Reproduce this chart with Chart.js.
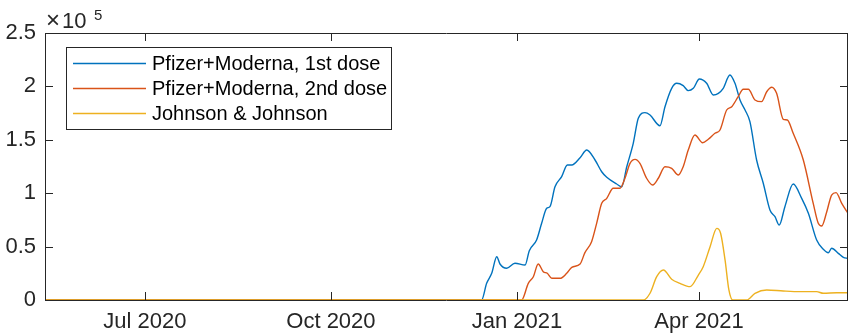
<!DOCTYPE html>
<html>
<head>
<meta charset="utf-8">
<script src="https://cdn.jsdelivr.net/npm/chart.js@4.4.1/dist/chart.umd.min.js"></script>
<style>
  html, body { margin: 0; padding: 0; background: #fff; }
  #chart { display: block; }
</style>
</head>
<body>
<canvas id="chart" width="848" height="334"></canvas>
<script>
// days are counted from 1 Jan 2021
const xMin = -233.4;
const xMax = 163.7;
const tickDays = [-184, -92, 0, 90];
const tickLabels = ['Jul 2020', 'Oct 2020', 'Jan 2021', 'Apr 2021'];
const yTicks = [0, 50000, 100000, 150000, 200000, 250000];

const seriesNames = ['Pfizer+Moderna, 1st dose', 'Pfizer+Moderna, 2nd dose', 'Johnson & Johnson'];
const seriesColors = ['#0072BD', '#D95319', '#EDB120'];

const firstDoseDays = [-233.4, -17.5, -15.0, -12.5, -10.0, -8.4, -5.1, -1.0, 4.0, 6.1, 9.7, 12.2, 14.7, 16.3, 18.8,
  22.1, 24.9, 27.1, 31.2, 34.5, 38.6, 41.9, 44.4, 49.3, 51.8, 54.3, 57.5, 60.0, 63.3, 65.8, 70.7, 73.2,
  76.5, 79.0, 82.2, 84.7, 87.2, 90.2, 93.8, 97.1, 99.6, 102.0, 105.3, 107.8, 110.3, 112.8, 115.2, 118.5,
  121.8, 125.1, 127.6, 129.7, 132.5, 136.6, 140.8, 144.1, 148.2, 151.5, 154.0, 155.6, 158.9, 161.4, 163.7];
const firstDoseValues = [0, 0, 15600, 25000, 40500, 33700, 29700, 34400, 32800, 46200, 56200, 71800, 85900, 87400, 106100,
  115500, 126400, 126400, 133200, 140400, 131100, 120100, 114900, 108600, 106100, 124800, 146700, 170100, 175400, 173200, 163200, 181000,
  198200, 202900, 200700, 196000, 198200, 206900, 202900, 191900, 193500, 198200, 210700, 202900, 187300, 177900, 167000, 131100,
  109300, 84300, 78000, 70200, 87400, 108600, 95200, 81200, 56200, 47500, 44300, 48400, 43700, 40000, 39000];

const secondDoseDays = [-233.4, 2.3, 5.6, 8.1, 10.5, 13.0, 15.0, 17.2, 21.3, 24.6, 27.1, 31.2, 33.6, 36.9, 39.4,
  41.9, 44.4, 47.6, 50.9, 53.4, 55.9, 58.4, 60.8, 64.1, 67.1, 69.9, 73.2, 76.5, 79.8, 82.2, 84.7, 88.0,
  91.8, 94.6, 97.9, 100.4, 103.7, 106.2, 109.4, 111.9, 114.4, 117.7, 121.0, 123.5, 126.0, 128.4, 131.7,
  133.7, 136.6, 141.6, 146.5, 149.0, 150.7, 153.2, 155.6, 157.8, 160.6, 163.7];
const secondDoseValues = [0, 0, 15600, 21800, 33700, 26500, 25000, 20300, 20300, 25000, 30600, 33700, 44300, 54600, 71800,
  90500, 95200, 104600, 104600, 114000, 128000, 131700, 128000, 114000, 107700, 114000, 124800, 123300, 117000, 124800, 140400, 154500,
  147300, 150500, 156100, 159200, 177900, 181000, 190400, 197300, 197300, 187300, 185700, 195000, 199200, 193500, 169200,
  168500, 156100, 131100, 90500, 71800, 69300, 82700, 98300, 100500, 90500, 81200];

const janssenDays = [-233.4, 62.5, 65.8, 69.1, 72.4, 76.5, 80.6, 85.6, 89.7, 92.1, 95.5, 98.8, 100.7, 102.9,
  104.8, 106.7, 113.6, 117.7, 123.5, 131.7, 140.0, 148.2, 151.5, 158.1, 163.7];
const janssenValues = [0, 0, 6300, 21800, 28100, 19400, 15600, 12500, 23400, 31200, 49900, 67100, 62500, 37500,
  9400, 0, 0, 6300, 9400, 8400, 7800, 7800, 6300, 6800, 6800];

const axisColor = '#262626';
const fontFamily = '"Liberation Sans", Arial, Helvetica, sans-serif';

function toPoints(days, values) {
  return days.map((d, i) => ({ x: d, y: values[i] }));
}

// box around the axes, inward ticks, exponent label and legend
const matlabAxes = {
  id: 'matlabAxes',
  afterDatasetsDraw(chart) {
    const { ctx, chartArea: a, scales: { x, y } } = chart;
    const tick = 8;
    ctx.save();
    ctx.strokeStyle = axisColor;
    ctx.lineWidth = 1;
    ctx.beginPath();
    ctx.moveTo(a.left + 0.5, a.bottom + 0.5);
    ctx.lineTo(a.left + 0.5, a.top + 0.5);
    ctx.lineTo(a.right - 0.5, a.top + 0.5);
    ctx.lineTo(a.right - 0.5, a.bottom + 0.5);
    ctx.lineTo(a.left + 0.5, a.bottom + 0.5);
    tickDays.forEach(d => {
      const px = Math.round(x.getPixelForValue(d)) + 0.5;
      ctx.moveTo(px, a.bottom);
      ctx.lineTo(px, a.bottom - tick);
      ctx.moveTo(px, a.top);
      ctx.lineTo(px, a.top + tick);
    });
    yTicks.forEach(v => {
      const py = Math.round(y.getPixelForValue(v)) + 0.5;
      ctx.moveTo(a.left, py);
      ctx.lineTo(a.left + tick, py);
      ctx.moveTo(a.right, py);
      ctx.lineTo(a.right - tick, py);
    });
    ctx.stroke();

    // exponent above the y axis
    ctx.fillStyle = axisColor;
    ctx.textBaseline = 'alphabetic';
    ctx.textAlign = 'left';
    ctx.font = '24px ' + fontFamily;
    ctx.fillText('\u00d7', a.left + 1, 28);
    ctx.font = '22px ' + fontFamily;
    ctx.fillText('10', a.left + 17, 28);
    ctx.font = '15px ' + fontFamily;
    ctx.fillText('5', a.left + 49, 20);

    // legend
    const lx = 66, ly = 47, lw = 325, lh = 82;
    ctx.fillStyle = '#fff';
    ctx.fillRect(lx, ly, lw, lh);
    ctx.strokeStyle = axisColor;
    ctx.lineWidth = 1;
    ctx.strokeRect(lx + 0.5, ly + 0.5, lw, lh);
    ctx.font = '20px ' + fontFamily;
    ctx.textBaseline = 'middle';
    seriesNames.forEach((name, i) => {
      const rowY = 63.5 + i * 25;
      ctx.strokeStyle = seriesColors[i];
      ctx.lineWidth = 1.4;
      ctx.beginPath();
      ctx.moveTo(73, rowY);
      ctx.lineTo(146, rowY);
      ctx.stroke();
      ctx.fillStyle = '#000';
      ctx.fillText(name, 152, rowY + 1);
    });
    ctx.restore();
  }
};

new Chart(document.getElementById('chart'), {
  type: 'line',
  data: {
    datasets: [
      { data: toPoints(firstDoseDays, firstDoseValues), borderColor: seriesColors[0], order: 2 },
      { data: toPoints(secondDoseDays, secondDoseValues), borderColor: seriesColors[1], order: 1 },
      { data: toPoints(janssenDays, janssenValues), borderColor: seriesColors[2], order: 0 }
    ]
  },
  options: {
    responsive: false,
    animation: false,
    devicePixelRatio: 1,
    layout: { padding: { top: 33, right: 0, left: 0, bottom: 0 } },
    elements: {
      line: { borderWidth: 1.4, cubicInterpolationMode: 'monotone', fill: false },
      point: { radius: 0 }
    },
    plugins: { legend: { display: false }, tooltip: { enabled: false } },
    scales: {
      x: {
        type: 'linear',
        min: xMin,
        max: xMax,
        grid: { display: false, drawTicks: false },
        border: { display: false },
        afterBuildTicks: scale => { scale.ticks = tickDays.map(v => ({ value: v })); },
        afterFit: scale => { scale.height = 34; },
        ticks: {
          autoSkip: false,
          maxRotation: 0,
          padding: 9,
          color: axisColor,
          font: { family: fontFamily, size: 22 },
          callback: v => tickLabels[tickDays.indexOf(v)]
        }
      },
      y: {
        min: 0,
        max: 250000,
        grid: { display: false, drawTicks: false },
        border: { display: false },
        afterBuildTicks: scale => { scale.ticks = yTicks.map(v => ({ value: v })); },
        afterFit: scale => { scale.width = 45; },
        ticks: {
          padding: 9,
          color: axisColor,
          font: { family: fontFamily, size: 22 },
          callback: v => String(v / 100000)
        }
      }
    }
  },
  plugins: [matlabAxes]
});
</script>
</body>
</html>
